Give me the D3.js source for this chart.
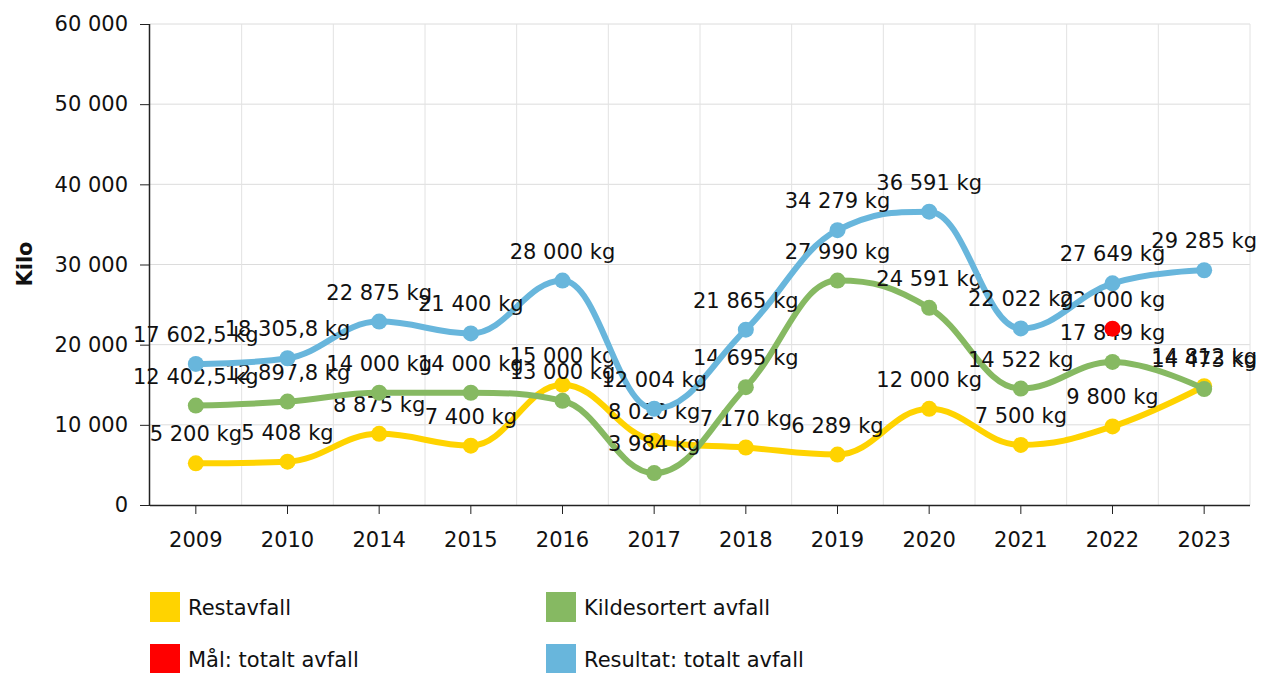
<!DOCTYPE html>
<html>
<head>
<meta charset="utf-8">
<script src="https://cdn.jsdelivr.net/npm/d3@7"></script>
<style>
  body { margin: 0; background: #fff; }
  text { font-family: "DejaVu Sans", Verdana, sans-serif; fill: #111; }
</style>
</head>
<body>
<script>
var years = ["2009", "2010", "2014", "2015", "2016", "2017", "2018", "2019", "2020", "2021", "2022", "2023"];
var restavfall = [5200, 5408, 8875, 7400, 15000, 8020, 7170, 6289, 12000, 7500, 9800, 14812];
var kildesortert = [12402.5, 12897.8, 14000, 14000, 13000, 3984, 14695, 27990, 24591, 14522, 17849, 14473];
var maal = [null, null, null, null, null, null, null, null, null, null, 22000, null];
var resultat = [17602.5, 18305.8, 22875, 21400, 28000, 12004, 21865, 34279, 36591, 22022, 27649, 29285];
var yTicks = [0, 10000, 20000, 30000, 40000, 50000, 60000];

var series = [
  {name: "Restavfall", values: restavfall, color: "#ffd300", line: true},
  {name: "Kildesortert avfall", values: kildesortert, color: "#86b962", line: true},
  {name: "Mål: totalt avfall", values: maal, color: "#ff0000", line: false},
  {name: "Resultat: totalt avfall", values: resultat, color: "#68b6dc", line: true}
];

const width = 1263, height = 673;
const plotLeft = 150, plotRight = 1250, plotTop = 24, plotBottom = 505;

var locale = d3.formatLocale({decimal: ",", thousands: " ", grouping: [3], currency: ["", ""]});
var fmt = locale.format(",");

var svg = d3.select("body").append("svg")
    .attr("width", width)
    .attr("height", height);

var x = d3.scaleBand().domain(years).range([plotLeft, plotRight]);
var y = d3.scaleLinear().domain([0, 60000]).range([plotBottom, plotTop]);

// grid
svg.append("g").selectAll("line")
    .data(yTicks.slice(1))
    .enter().append("line")
    .attr("x1", plotLeft).attr("x2", plotRight)
    .attr("y1", d => y(d)).attr("y2", d => y(d))
    .style("stroke", "#dcdcdc").style("stroke-width", 1);

svg.append("g").selectAll("line")
    .data(years.slice(1).concat(["end"]))
    .enter().append("line")
    .attr("x1", d => d == "end" ? plotRight : x(d))
    .attr("x2", d => d == "end" ? plotRight : x(d))
    .attr("y1", plotTop).attr("y2", plotBottom)
    .style("stroke", "#e2e2e2").style("stroke-width", 1);

// axes
var yAxis = svg.append("g")
    .attr("transform", "translate(" + plotLeft + ",0)")
    .call(d3.axisLeft(y).tickValues(yTicks).tickSize(10).tickPadding(12).tickFormat(fmt));
var xAxis = svg.append("g")
    .attr("transform", "translate(0," + plotBottom + ")")
    .call(d3.axisBottom(x).tickSize(9).tickPadding(18));
[yAxis, xAxis].forEach(function(a) {
  a.selectAll("text").style("font-size", "21px").style("fill", "#111");
  a.selectAll("line").style("stroke", "#222");
  a.select(".domain").style("stroke", "#222").style("stroke-width", 1.5);
});
xAxis.select(".domain").attr("d", "M" + plotLeft + ",0.5H" + plotRight);
yAxis.select(".domain").attr("d", "M-0.5," + plotTop + "V" + plotBottom);

svg.append("text")
    .attr("transform", "translate(32,264) rotate(-90)")
    .attr("text-anchor", "middle")
    .style("font-size", "21px").style("font-weight", "bold")
    .text("Kilo");

// Highcharts-like spline
function splineCurve(context) {
  var pts;
  return {
    areaStart: function() {}, areaEnd: function() {},
    lineStart: function() { pts = []; },
    point: function(px, py) { pts.push({x: +px, y: +py}); },
    lineEnd: function() {
      var s = 1.5, den = s + 1;
      pts.forEach(function(p, i) {
        var a = pts[i - 1], b = pts[i + 1];
        if (a && b) {
          var lx = (s * p.x + a.x) / den, ly = (s * p.y + a.y) / den;
          var rx = (s * p.x + b.x) / den, ry = (s * p.y + b.y) / den;
          var c = ((ry - ly) * (rx - p.x)) / (rx - lx) + p.y - ry;
          ly += c; ry += c;
          if (ly > a.y && ly > p.y) { ly = Math.max(a.y, p.y); ry = 2 * p.y - ly; }
          else if (ly < a.y && ly < p.y) { ly = Math.min(a.y, p.y); ry = 2 * p.y - ly; }
          if (ry > b.y && ry > p.y) { ry = Math.max(b.y, p.y); ly = 2 * p.y - ry; }
          else if (ry < b.y && ry < p.y) { ry = Math.min(b.y, p.y); ly = 2 * p.y - ry; }
          p.lx = lx; p.ly = ly; p.rx = rx; p.ry = ry;
        } else {
          p.lx = p.rx = p.x; p.ly = p.ry = p.y;
        }
      });
      pts.forEach(function(p, i) {
        if (i == 0) context.moveTo(p.x, p.y);
        else {
          var a = pts[i - 1];
          context.bezierCurveTo(a.rx, a.ry, p.lx, p.ly, p.x, p.y);
        }
      });
    }
  };
}

var line = d3.line()
    .defined(d => d.v != null)
    .x(d => x(d.year) + x.bandwidth() / 2)
    .y(d => y(d.v))
    .curve(splineCurve);

series.forEach(function(s) {
  var data = years.map((yr, i) => ({year: yr, v: s.values[i]}));
  var g = svg.append("g");
  if (s.line) {
    g.append("path")
        .attr("d", line(data))
        .style("fill", "none")
        .style("stroke", s.color)
        .style("stroke-width", 6)
        .style("stroke-linejoin", "round");
  }
  var pts = data.filter(d => d.v != null);
  g.selectAll("circle")
      .data(pts)
      .enter().append("circle")
      .attr("cx", d => x(d.year) + x.bandwidth() / 2)
      .attr("cy", d => y(d.v))
      .attr("r", 8)
      .style("fill", s.color);
  g.selectAll("text")
      .data(pts)
      .enter().append("text")
      .attr("x", d => x(d.year) + x.bandwidth() / 2)
      .attr("y", d => y(d.v) - 22)
      .attr("text-anchor", "middle")
      .style("font-size", "21px")
      .text(d => fmt(d.v) + " kg");
});

// legend
var legend = svg.append("g").selectAll("g")
    .data(series)
    .enter().append("g")
    .attr("transform", (d, i) => "translate(" + (i % 2 ? 546 : 150) + "," + (i < 2 ? 592 : 644) + ")");
legend.append("rect")
    .attr("width", 30).attr("height", 30)
    .style("fill", d => d.color);
legend.append("text")
    .attr("x", 38).attr("y", 23)
    .style("font-size", "21px")
    .text(d => d.name);
</script>
</body>
</html>
